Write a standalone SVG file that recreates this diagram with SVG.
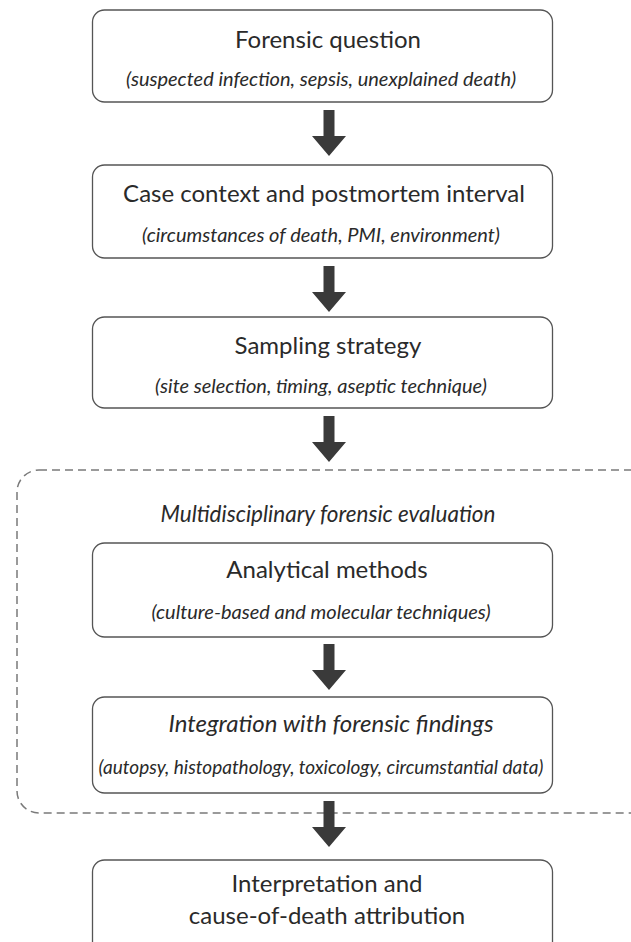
<svg xmlns="http://www.w3.org/2000/svg" width="631" height="942" viewBox="0 0 631 942">
<defs>
<style>
.box{fill:#ffffff;stroke:#555555;stroke-width:1.3}
.t{font-family:Lato,"Open Sans","Liberation Sans",sans-serif;font-size:24px;fill:#2a2a2a;text-anchor:middle}
.ti{font-family:Lato,"Open Sans","Liberation Sans",sans-serif;font-size:24px;font-style:italic;fill:#2a2a2a;text-anchor:middle}
.s{font-family:Lato,"Open Sans","Liberation Sans",sans-serif;font-size:20px;font-style:italic;fill:#2a2a2a;text-anchor:middle}
.grp{fill:none;stroke:#7a7a7a;stroke-width:1.5;stroke-dasharray:8 5}
.arr{fill:#3a3a3a}
</style>
<path id="ar" d="M-5.5,0 H5.5 V26 H17 L0,46 L-17,26 H-5.5 Z"/>
</defs>
<rect width="631" height="942" fill="#ffffff"/>
<g id="group-multidisciplinary">
<rect class="grp" x="17" y="470" width="640" height="343" rx="22"/>
<text class="ti" x="328" y="522" style="font-size:22.5px">Multidisciplinary forensic evaluation</text>
</g>
<g id="node-question">
<rect class="box" x="92.5" y="10" width="460" height="92" rx="12"/>
<text class="t" x="328" y="48">Forensic question</text>
<text class="s" x="321" y="86">(suspected infection, sepsis, unexplained death)</text>
</g>
<g id="node-context">
<rect class="box" x="92.5" y="165" width="460" height="93" rx="12"/>
<text class="t" x="324" y="202">Case context and postmortem interval</text>
<text class="s" x="321" y="242">(circumstances of death, PMI, environment)</text>
</g>
<g id="node-sampling">
<rect class="box" x="92.5" y="317" width="460" height="91" rx="12"/>
<text class="t" x="328" y="354">Sampling strategy</text>
<text class="s" x="321" y="393">(site selection, timing, aseptic technique)</text>
</g>
<g id="node-analytical">
<rect class="box" x="92.5" y="543" width="460" height="94" rx="12"/>
<text class="t" x="327" y="578">Analytical methods</text>
<text class="s" x="321" y="619">(culture-based and molecular techniques)</text>
</g>
<g id="node-integration">
<rect class="box" x="92.5" y="697" width="460" height="96" rx="12"/>
<text class="ti" x="331" y="732">Integration with forensic findings</text>
<text class="s" x="321" y="774" style="font-size:19px">(autopsy, histopathology, toxicology, circumstantial data)</text>
</g>
<g id="node-interpretation">
<rect class="box" x="92.5" y="860" width="460" height="100" rx="12"/>
<text class="t" x="327" y="892">Interpretation and</text>
<text class="t" x="327" y="924">cause-of-death attribution</text>
</g>
<g id="connectors">
<use href="#ar" class="arr" x="329" y="110"/>
<use href="#ar" class="arr" x="329" y="266"/>
<use href="#ar" class="arr" x="329" y="416"/>
<use href="#ar" class="arr" x="329" y="644"/>
<use href="#ar" class="arr" x="329" y="801"/>
</g>
</svg>
